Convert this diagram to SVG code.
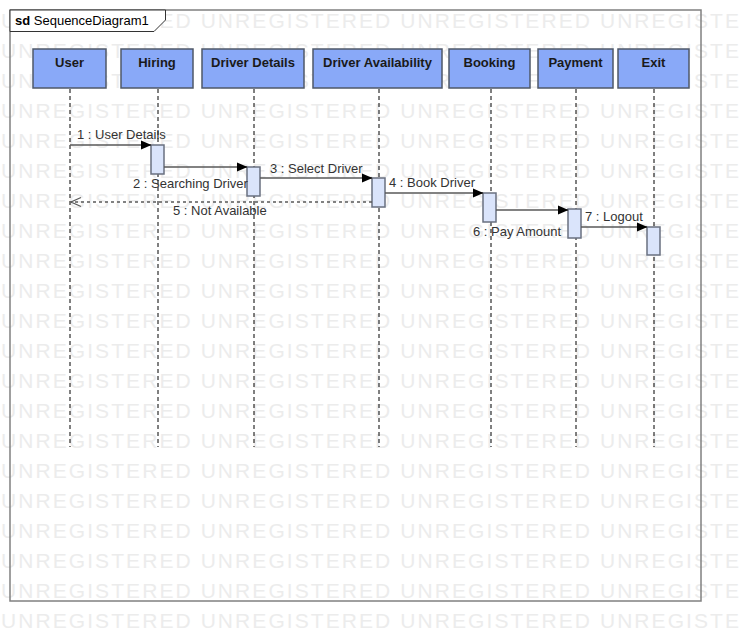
<svg xmlns="http://www.w3.org/2000/svg" width="741" height="641" viewBox="0 0 741 641">
<defs>
<style>
.wm{font-family:"Liberation Sans",Arial,sans-serif;font-size:21px;fill:#ececec}
.head{fill:#89a9f8;stroke:#4f5868;stroke-width:1.5}
.headtxt{font-family:"Liberation Sans",Arial,sans-serif;font-size:13px;font-weight:bold;fill:#1a1a1a;text-anchor:middle}
.life{stroke:#000;stroke-width:1;stroke-dasharray:4,3;fill:none}
.act{fill:#dae4fb;stroke:#697080;stroke-width:1.5}
.msg{stroke:#595959;stroke-width:1.5;fill:none}
.ret{stroke:#595959;stroke-width:1.3;fill:none;stroke-dasharray:3,3}
.lbl{font-family:"Liberation Sans",Arial,sans-serif;font-size:13px;fill:#333}
</style>
<marker id="filled" markerWidth="11" markerHeight="10" refX="10" refY="5" orient="auto" markerUnits="userSpaceOnUse">
<path d="M0,0.5 L10.5,5 L0,9.5 Z" fill="#000"/>
</marker>
<marker id="open" markerWidth="12" markerHeight="12" refX="10.5" refY="6" orient="auto" markerUnits="userSpaceOnUse">
<path d="M0.5,1.5 L10.5,6 L0.5,10.5" fill="none" stroke="#595959" stroke-width="1.2"/>
</marker>
</defs>
<rect x="0" y="0" width="741" height="641" fill="#fff"/>
<g id="watermark">
<text class="wm" x="1" y="28" textLength="738" lengthAdjust="spacing">UNREGISTERED UNREGISTERED UNREGISTERED UNREGISTE</text>
<text class="wm" x="1" y="58" textLength="738" lengthAdjust="spacing">UNREGISTERED UNREGISTERED UNREGISTERED UNREGISTE</text>
<text class="wm" x="1" y="88" textLength="738" lengthAdjust="spacing">UNREGISTERED UNREGISTERED UNREGISTERED UNREGISTE</text>
<text class="wm" x="1" y="118" textLength="738" lengthAdjust="spacing">UNREGISTERED UNREGISTERED UNREGISTERED UNREGISTE</text>
<text class="wm" x="1" y="148" textLength="738" lengthAdjust="spacing">UNREGISTERED UNREGISTERED UNREGISTERED UNREGISTE</text>
<text class="wm" x="1" y="178" textLength="738" lengthAdjust="spacing">UNREGISTERED UNREGISTERED UNREGISTERED UNREGISTE</text>
<text class="wm" x="1" y="208" textLength="738" lengthAdjust="spacing">UNREGISTERED UNREGISTERED UNREGISTERED UNREGISTE</text>
<text class="wm" x="1" y="238" textLength="738" lengthAdjust="spacing">UNREGISTERED UNREGISTERED UNREGISTERED UNREGISTE</text>
<text class="wm" x="1" y="268" textLength="738" lengthAdjust="spacing">UNREGISTERED UNREGISTERED UNREGISTERED UNREGISTE</text>
<text class="wm" x="1" y="298" textLength="738" lengthAdjust="spacing">UNREGISTERED UNREGISTERED UNREGISTERED UNREGISTE</text>
<text class="wm" x="1" y="328" textLength="738" lengthAdjust="spacing">UNREGISTERED UNREGISTERED UNREGISTERED UNREGISTE</text>
<text class="wm" x="1" y="358" textLength="738" lengthAdjust="spacing">UNREGISTERED UNREGISTERED UNREGISTERED UNREGISTE</text>
<text class="wm" x="1" y="388" textLength="738" lengthAdjust="spacing">UNREGISTERED UNREGISTERED UNREGISTERED UNREGISTE</text>
<text class="wm" x="1" y="418" textLength="738" lengthAdjust="spacing">UNREGISTERED UNREGISTERED UNREGISTERED UNREGISTE</text>
<text class="wm" x="1" y="448" textLength="738" lengthAdjust="spacing">UNREGISTERED UNREGISTERED UNREGISTERED UNREGISTE</text>
<text class="wm" x="1" y="478" textLength="738" lengthAdjust="spacing">UNREGISTERED UNREGISTERED UNREGISTERED UNREGISTE</text>
<text class="wm" x="1" y="508" textLength="738" lengthAdjust="spacing">UNREGISTERED UNREGISTERED UNREGISTERED UNREGISTE</text>
<text class="wm" x="1" y="538" textLength="738" lengthAdjust="spacing">UNREGISTERED UNREGISTERED UNREGISTERED UNREGISTE</text>
<text class="wm" x="1" y="568" textLength="738" lengthAdjust="spacing">UNREGISTERED UNREGISTERED UNREGISTERED UNREGISTE</text>
<text class="wm" x="1" y="598" textLength="738" lengthAdjust="spacing">UNREGISTERED UNREGISTERED UNREGISTERED UNREGISTE</text>
<text class="wm" x="1" y="628" textLength="738" lengthAdjust="spacing">UNREGISTERED UNREGISTERED UNREGISTERED UNREGISTE</text>
</g>
<g id="frame">
<rect x="10" y="10" width="691" height="591" fill="none" stroke="#808080" stroke-width="1.5"/>
<path d="M10,10 V31.5 H154 L165.5,20 V10 Z" fill="#fff" stroke="#333" stroke-width="1"/>
<text x="15" y="25" font-family="Liberation Sans, Arial, sans-serif" font-size="13" fill="#000"><tspan font-weight="bold">sd</tspan> SequenceDiagram1</text>
</g>
<g id="lifelines">
<g id="user"><rect class="head" x="33" y="49" width="73" height="39"/><text class="headtxt" x="69.5" y="67">User</text><line class="life" x1="70" y1="89" x2="70" y2="447"/></g>
<g id="hiring"><rect class="head" x="121" y="49" width="72" height="39"/><text class="headtxt" x="157" y="67">Hiring</text><line class="life" x1="158" y1="89" x2="158" y2="447"/></g>
<g id="driverdetails"><rect class="head" x="202" y="49" width="102" height="39"/><text class="headtxt" x="253" y="67">Driver Details</text><line class="life" x1="254" y1="89" x2="254" y2="447"/></g>
<g id="driveravailability"><rect class="head" x="313" y="49" width="129" height="39"/><text class="headtxt" x="377.5" y="67">Driver Availability</text><line class="life" x1="379" y1="89" x2="379" y2="447"/></g>
<g id="booking"><rect class="head" x="449" y="49" width="81" height="39"/><text class="headtxt" x="489.5" y="67">Booking</text><line class="life" x1="491" y1="89" x2="491" y2="447"/></g>
<g id="payment"><rect class="head" x="538" y="49" width="75" height="39"/><text class="headtxt" x="575.5" y="67">Payment</text><line class="life" x1="576" y1="89" x2="576" y2="447"/></g>
<g id="exit"><rect class="head" x="618" y="49" width="71" height="39"/><text class="headtxt" x="653.5" y="67">Exit</text><line class="life" x1="654" y1="89" x2="654" y2="447"/></g>
</g>
<g id="activations">
<rect class="act" x="151" y="145" width="13" height="29"/>
<rect class="act" x="247" y="167" width="13" height="29"/>
<rect class="act" x="372" y="178" width="13" height="29"/>
<rect class="act" x="483" y="193" width="13" height="29"/>
<rect class="act" x="568" y="209" width="13" height="29"/>
<rect class="act" x="647" y="227" width="13" height="28"/>
</g>
<g id="connectors">
<line class="msg" x1="70" y1="145" x2="151" y2="145" marker-end="url(#filled)"/>
<line class="msg" x1="164" y1="167" x2="247" y2="167" marker-end="url(#filled)"/>
<line class="msg" x1="260" y1="178" x2="372" y2="178" marker-end="url(#filled)"/>
<line class="msg" x1="385" y1="193" x2="483" y2="193" marker-end="url(#filled)"/>
<line class="ret" x1="372" y1="202" x2="71" y2="202" marker-end="url(#open)"/>
<line class="msg" x1="496" y1="210" x2="568" y2="210" marker-end="url(#filled)"/>
<line class="msg" x1="581" y1="227" x2="647" y2="227" marker-end="url(#filled)"/>
</g>
<g id="labels">
<text class="lbl" x="77" y="139">1 : User Details</text>
<text class="lbl" x="133" y="188">2 : Searching Driver</text>
<text class="lbl" x="270" y="173">3 : Select Driver</text>
<text class="lbl" x="389" y="187">4 : Book Driver</text>
<text class="lbl" x="173" y="215">5 : Not Available</text>
<text class="lbl" x="473" y="236">6 : Pay Amount</text>
<text class="lbl" x="585" y="221">7 : Logout</text>
</g>
</svg>
